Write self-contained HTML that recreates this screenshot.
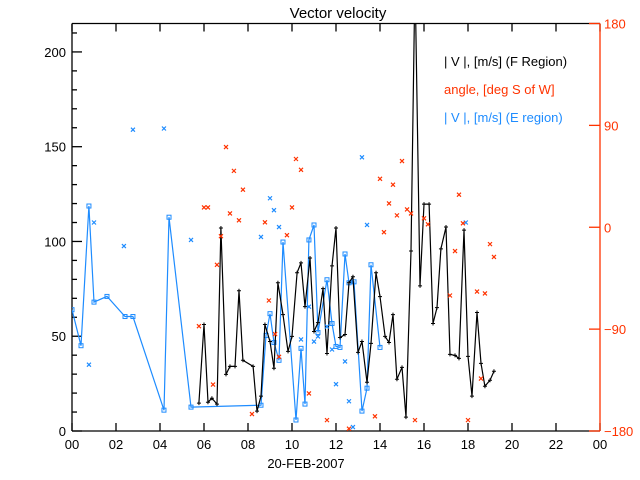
<!DOCTYPE html>
<html><head><meta charset="utf-8"><style>
body{margin:0;background:#fff;}
svg{display:block;font-family:"Liberation Sans",sans-serif;}
</style></head><body>
<svg id="chart" width="640" height="480" xmlns="http://www.w3.org/2000/svg">
<text x="338" y="18" font-size="15" text-anchor="middle" fill="#000">Vector velocity</text>
<text x="306" y="468" font-size="13" text-anchor="middle" fill="#000">20-FEB-2007</text>
<g font-size="13">
<text x="444" y="66" fill="#000">| V |, [m/s] (F Region)</text>
<text x="444" y="94" fill="#ff3300">angle, [deg S of W]</text>
<text x="444" y="122" fill="#1e8cff">| V |, [m/s] (E region)</text>
</g>
</svg>
<script>
const fHours=[5.77,6.00,6.18,6.36,6.59,6.77,7.00,7.18,7.41,7.59,7.77,8.23,8.41,8.59,8.77,9.00,9.18,9.36,9.59,9.82,10.00,10.23,10.41,10.59,10.82,11.00,11.18,11.41,11.59,11.82,12.00,12.18,12.41,12.59,12.77,13.00,13.18,13.41,13.59,13.82,14.00,14.23,14.41,14.59,14.77,15.00,15.18,15.41,15.59,15.82,16.00,16.23,16.41,16.59,16.77,17.00,17.18,17.41,17.59,17.82,18.00,18.18,18.41,18.59,18.77,19.00,19.18];
const fSpeed=[14.7,56.2,15.2,17.3,14.2,107.1,29.9,34.1,34.1,74.0,37.3,34.1,10.5,18.4,56.2,47.2,33.1,78.2,61.4,42.0,49.9,83.5,88.7,65.6,91.3,52.5,57.2,75.1,40.9,87.1,107.1,49.3,50.9,78.2,81.4,41.5,47.2,25.7,46.2,83.5,70.9,49.9,46.7,61.4,27.3,33.6,7.3,95.0,240,76.6,119.7,119.7,56.7,65.1,96.1,107.6,40.4,39.9,38.3,106.0,39.4,18.4,62.5,35.7,23.6,26.8,31.5];
const eHours=[0.0,0.41,0.77,1.0,1.59,2.41,2.77,4.18,4.41,5.41,8.59,8.82,9.0,9.18,9.41,9.59,10.18,10.41,10.59,10.77,11.0,11.18,11.59,11.82,12.0,12.18,12.41,12.59,12.82,13.18,13.41,13.59,14.0];
const eSpeed=[64,45,118.7,68,71,60.4,60.4,11,112.8,12.6,13.6,50.4,61.9,46.7,37.3,99.7,5.8,43.6,14.2,100.8,108.7,52.0,79.8,56.7,44.6,44.1,93.4,78.2,78.7,10.5,22.6,87.7,44.1];
const eScatHours=[0.77,1.0,2.36,2.77,4.18,5.41,8.59,9.0,9.18,9.41,10.41,10.77,11.0,11.18,11.59,11.82,12.0,12.41,12.59,12.77,13.18,13.41,17.9];
const eScatSpeed=[35,110,97.6,159,159.6,100.8,102.4,122.8,116.5,107.6,48.3,65.6,47.2,49.9,55.1,43.0,24.7,36.7,15.7,2.1,144.4,108.7,110];
const angHours=[5.77,6.0,6.18,6.41,6.59,6.77,7.0,7.18,7.36,7.59,7.77,8.18,8.77,8.95,9.23,9.41,9.77,10.0,10.18,10.41,10.77,11.59,12.59,13.77,14.0,14.18,14.41,14.59,14.77,15.0,15.23,15.41,15.59,16.0,16.18,17.18,17.41,17.59,17.77,18.0,18.41,18.59,18.77,19.0,19.18];
const angDeg=[-87.4,17.5,17.5,-139,-33.2,-7.9,70.8,12.2,49.8,6.1,33.2,-165,4.4,-64.7,-94.4,-114.5,-7.0,17.5,60.3,50.7,-146.8,-170.4,-178,-167,42.8,-4.4,21.0,37.6,10.5,58.5,15.7,12.2,-170.4,7.9,2.6,-60.3,-21,28.8,3.5,-170.4,-56.8,-133.7,-58.5,-14.9,-26.2];
const xTicks=["00","02","04","06","08","10","12","14","16","18","20","22","00"];
const yTicks=[0,50,100,150,200];
const rTicks=[-180,-90,0,90,180];

const NS="http://www.w3.org/2000/svg";
const svg=document.getElementById('chart');
const L=72,R=600,T=23.5,B=431;
const BLUE="#1e8cff",RED="#ff3300";
const xs=h=>L+(R-L)*h/24;
const ys=v=>B-(B-T)*v/215;
const yr=a=>B-(B-T)*(a+180)/360;
function mk(tag,attrs,parent){const e=document.createElementNS(NS,tag);for(const k in attrs)e.setAttribute(k,attrs[k]);(parent||svg).appendChild(e);return e;}

const clip=mk('clipPath',{id:'pc'});mk('rect',{x:L,y:T,width:R-L,height:B-T},clip);

// axes
const axes=mk('g',{stroke:'#000','stroke-width':1.3,fill:'none'});


mk('line',{x1:L,y1:T,x2:R,y2:T},axes);
mk('line',{x1:L,y1:B,x2:R,y2:B},axes);
mk('line',{x1:L,y1:T,x2:L,y2:B},axes);
xTicks.forEach((t,i)=>{const x=xs(i*2);
 mk('line',{x1:x,y1:B,x2:x,y2:B-8},axes);mk('line',{x1:x,y1:T,x2:x,y2:T+8},axes);
 const tx=mk('text',{x:x,y:B+18,'font-size':13,'text-anchor':'middle',fill:'#000',stroke:'none'});
 
 
 tx.textContent=t;});
for(let v=0;v<=210;v+=10){const y=ys(v);const maj=v%50===0;mk('line',{x1:L,y1:y,x2:L+(maj?10:5),y2:y},axes);}
yTicks.forEach(v=>{const tx=mk('text',{x:L-6,y:ys(v)+5,'font-size':13,'text-anchor':'end',fill:'#000',stroke:'none'});
 
 
 tx.textContent=v;});
const rax=mk('g',{stroke:RED,'stroke-width':1.3});


mk('line',{x1:R,y1:T,x2:R,y2:B},rax);
rTicks.forEach(a=>{const y=yr(a);mk('line',{x1:R-11,y1:y,x2:R,y2:y},rax);
 const tx=mk('text',{x:R+4,y:y+5,'font-size':13,fill:RED,stroke:'none'});
 
 
 tx.textContent=a<0?'\u2212'+(-a):a;});

const plot=mk('g',{'clip-path':'url(#pc)'});
// E-region line
let d='';eHours.forEach((h,i)=>{d+=(i?'L':'M')+xs(h).toFixed(1)+' '+ys(eSpeed[i]).toFixed(1);});
const el=mk('path',{d:d,stroke:BLUE,'stroke-width':1.2,fill:'none'},plot);


eHours.forEach((h,i)=>{const r=mk('rect',{x:xs(h)-2,y:ys(eSpeed[i])-2,width:4,height:4,fill:'none',stroke:BLUE,'stroke-width':1},plot);
 
 });
// F-region line
d='';fHours.forEach((h,i)=>{d+=(i?'L':'M')+xs(h).toFixed(1)+' '+ys(fSpeed[i]).toFixed(1);});
const fl=mk('path',{d:d,stroke:'#000','stroke-width':1.2,fill:'none'},plot);


fHours.forEach((h,i)=>{const x=xs(h),y=ys(fSpeed[i]);
 const p=mk('path',{d:`M${x-2} ${y}H${x+2}M${x} ${y-2}V${y+2}`,stroke:'#000','stroke-width':1},plot);
 
 });
function cross(x,y,c,name){const p=mk('path',{d:`M${x-2} ${y-2}L${x+2} ${y+2}M${x-2} ${y+2}L${x+2} ${y-2}`,stroke:c,'stroke-width':1.2},plot);
 
 }
eScatHours.forEach((h,i)=>cross(xs(h),ys(eScatSpeed[i]),BLUE,'e-region-scatter'));
angHours.forEach((h,i)=>cross(xs(h),yr(angDeg[i]),RED,'angle-point'));
</script>
</body></html>
